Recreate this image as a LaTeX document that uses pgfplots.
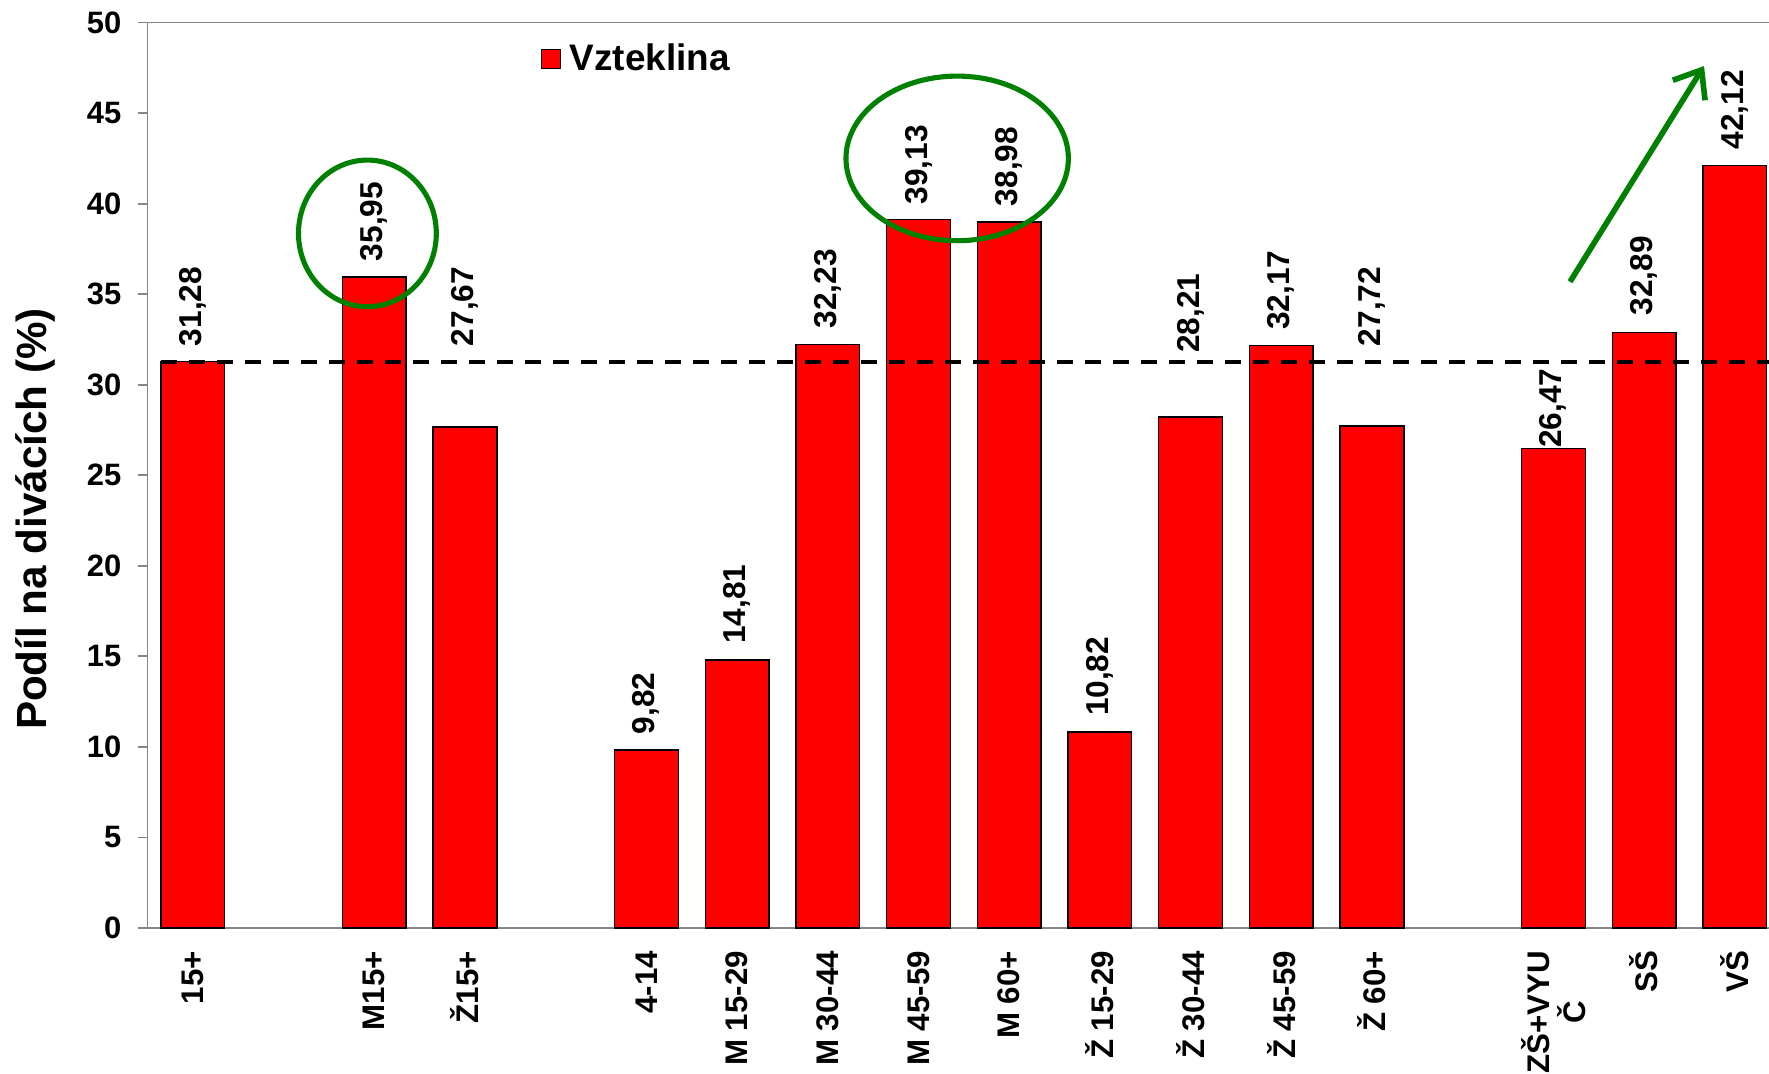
\documentclass[border=0pt]{standalone}
\usepackage{pgfplots}
\pgfplotsset{compat=1.18}
\usepackage{fontspec}
\setmainfont{Liberation Sans}
\usetikzlibrary{arrows.meta}
\definecolor{axgray}{RGB}{134,134,134}
\definecolor{ringgreen}{RGB}{0,128,0}
\begin{document}
\begin{tikzpicture}
\path[use as bounding box] (-14.75mm,-14.6mm) rectangle (162.15mm,92.8mm);
\clip (-14.75mm,-14.6mm) rectangle (162.15mm,92.8mm);
\begin{axis}[
  at={(0,0)}, anchor=south west,
  scale only axis,
  width=163.26mm, height=90.54mm,
  xmin=-0.5, xmax=17.5, ymin=0, ymax=50,
  axis x line*=bottom, axis y line*=left,
  axis line style={axgray, line width=0.5pt},
  clip=false,
  ytick={0,5,...,50},
  ytick style={axgray, line width=0.5pt},
  major tick length=1mm,
  tick align=outside,
  yticklabel style={font=\bfseries\fontsize{8.8}{10}\selectfont, inner sep=0pt, xshift=-1.55mm},
  /pgf/number format/assume math mode=true,
  xtick={0,2,3,5,6,7,8,9,10,11,12,13,15,16,17},
  xticklabels={15+, M15+, Ž15+, 4-14, M 15-29, M 30-44, M 45-59, M 60+, Ž 15-29, Ž 30-44, Ž 45-59, Ž 60+, {ZŠ+VYU\\Č}, SŠ, VŠ},
  xtick style={draw=none},
  xticklabel style={font=\bfseries\fontsize{8.9}{10.3}\selectfont, rotate=90, anchor=east, align=center, inner sep=0pt, xshift=-1.24mm},
  extra x ticks={-0.5,0.5,...,17.5},
  extra x tick labels={},
  extra x tick style={tick style={draw=axgray, line width=0.5pt}, major tick length=1mm, tick align=outside},
  ylabel={Podíl na divácích (\%)},
  ylabel style={at={(rel axis cs:0,0.4517)}, anchor=center, yshift=11.25mm, font=\bfseries\fontsize{12}{14}\selectfont},
  legend style={at={(rel axis cs:0.2405,0.9595)}, anchor=west, draw=none, fill=none, inner sep=0pt, font=\bfseries\fontsize{10.5}{12}\selectfont, nodes={inner sep=0.5mm}},
  legend image code/.code={\draw[fill=red, draw=black, line width=0.4pt] (0mm,-0.95mm) rectangle (1.9mm,0.95mm); \path (2.25mm,0);},
]
\draw[axgray, line width=0.5pt] (rel axis cs:0,1) -- (rel axis cs:1,1);
\addplot[ybar, bar width=6.37mm, bar shift=0pt, fill=red, draw=black, line width=0.4pt] table {
x y
0 31.28
2 35.95
3 27.67
5 9.82
6 14.81
7 32.23
8 39.13
9 38.98
10 10.82
11 28.21
12 32.17
13 27.72
15 26.47
16 32.89
17 42.12
};
\addlegendentry{Vzteklina}
\addplot[black, line width=1.1pt, dash pattern=on 1.6mm off 1.2mm, forget plot] coordinates {(-0.35,31.28) (17.5,31.28)};
\addplot[draw=none, mark=none, forget plot, nodes near coords, point meta=explicit symbolic,
  nodes near coords style={rotate=90, anchor=west, inner sep=0pt, font=\bfseries\fontsize{9}{10}\selectfont}]
  table[meta=lab] {
x y lab
0 32.1 31,28
2 36.79 35,95
3 32.1 27,67
5 10.67 9,82
6 15.66 14,81
7 33.08 32,23
8 39.92 39,13
9 39.83 38,98
10 11.67 10,82
11 31.73 28,21
12 33.0 32,17
13 32.1 27,72
15 26.49 26,47
16 33.8 32,89
17 42.96 42,12
};
\draw[ringgreen, line width=1.45pt] (axis cs:1.9245,38.36) ellipse [x radius=6.89mm, y radius=7.33mm];
\draw[ringgreen, line width=1.45pt] (axis cs:8.427,42.50) ellipse [x radius=11.12mm, y radius=8.23mm];
\draw[ringgreen, line width=1.6pt, -{Straight Barb[length=2.4mm, width=3.8mm]}] (axis cs:15.184,35.69) -- (axis cs:16.661,47.60);
\end{axis}
\end{tikzpicture}
\end{document}
